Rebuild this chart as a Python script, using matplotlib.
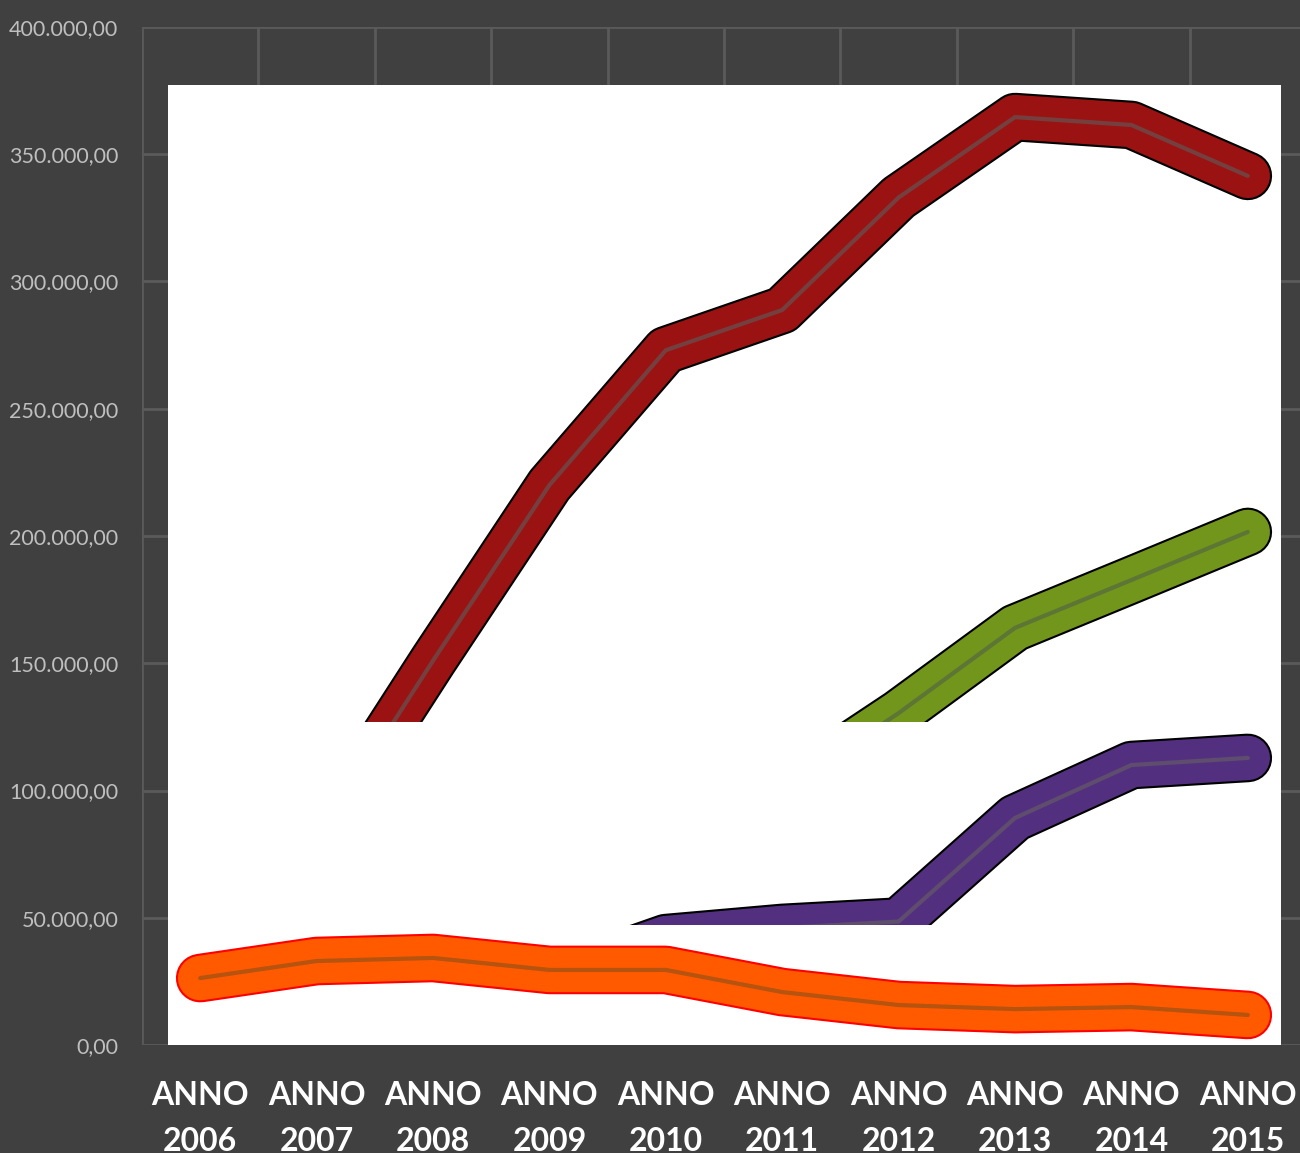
import matplotlib
matplotlib.use("Agg")
import matplotlib.pyplot as plt
from matplotlib.patches import Rectangle
from matplotlib.ticker import FuncFormatter

plt.rcParams["font.family"] = ["Lato", "DejaVu Sans"]

years = ["ANNO\n2006", "ANNO\n2007", "ANNO\n2008", "ANNO\n2009", "ANNO\n2010",
         "ANNO\n2011", "ANNO\n2012", "ANNO\n2013", "ANNO\n2014", "ANNO\n2015"]

red_vals = [50000, 80000, 151000, 220000, 273000, 288800, 333000, 364600, 361500, 341500]
green_vals = [40000, 50000, 60000, 70000, 85000, 100000, 130400, 163900, 182700, 201600]
purple_vals = [20000, 22000, 24000, 26000, 42000, 46000, 48500, 89200, 110000, 112800]
orange_vals = [26300, 33000, 34200, 29500, 29500, 20800, 15700, 14100, 14900, 11800]

# (values, band colour, edge colour, inner line colour, visible above)
series = [
    (orange_vals, "#ff5a00", "#ff0000", "#b5530f", None),
    (purple_vals, "#53307f", "#000000", "#5f4d6e", 47150),
    (green_vals, "#72961c", "#000000", "#5d7535", 126900),
    (red_vals, "#9b1212", "#000000", "#74403f", 126900),
]

fig = plt.figure(figsize=(13, 11.53), dpi=100)
fig.patch.set_facecolor("#404040")
ax = fig.add_axes([142 / 1300, 1 - 1045 / 1153, 1164 / 1300, 1018 / 1153])
ax.set_facecolor("#404040")

x = list(range(len(years)))
ax.set_xlim(-0.5, 9.5)
ax.set_ylim(0, 400000)

# pasted white area over the plot
ax.add_patch(Rectangle((-0.277, -800), 9.562, 378000, facecolor="white",
                       edgecolor="none", zorder=1))

for vals, band, edge, inner, cut in series:
    artists = []
    artists += ax.plot(x, vals, color=edge, lw=35, solid_capstyle="round",
                       solid_joinstyle="round", zorder=2)
    artists += ax.plot(x, vals, color=band, lw=32, solid_capstyle="round",
                       solid_joinstyle="round", zorder=3)
    artists += ax.plot(x, vals, color=inner, lw=3, solid_capstyle="round", zorder=4)
    if cut is not None:
        clip = Rectangle((-1, cut), 12, 400000, transform=ax.transData)
        for a in artists:
            a.set_clip_path(clip)

ax.set_xticks([i - 0.5 for i in range(11)], minor=True)
ax.set_xticks(x)
ax.set_xticklabels(years, fontsize=23, fontweight="bold", color="white",
                   linespacing=1.7)
ax.set_yticks(range(0, 400001, 50000))
ax.yaxis.set_major_formatter(FuncFormatter(
    lambda v, p: f"{v:,.2f}".replace(",", "X").replace(".", ",").replace("X", ".")))
ax.tick_params(axis="y", labelsize=15.5, labelcolor="#bfbfbf", length=0, pad=17)
ax.tick_params(axis="x", which="both", length=0, pad=26)

ax.grid(axis="y", which="major", color="#5a5a5a", lw=2)
ax.grid(axis="x", which="minor", color="#5a5a5a", lw=2)
ax.grid(axis="x", which="major", visible=False)
ax.set_axisbelow(True)
for s in ax.spines.values():
    s.set_visible(False)

fig.savefig("out.png", dpi=100, facecolor=fig.get_facecolor())
